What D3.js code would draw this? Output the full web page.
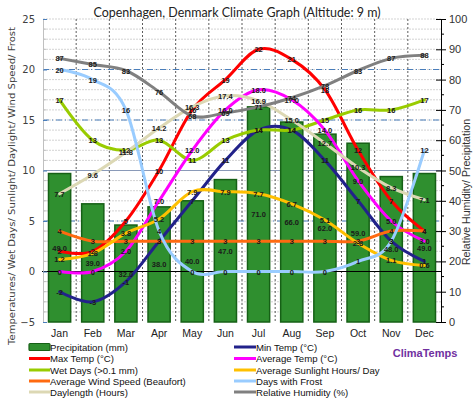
<!DOCTYPE html>
<html><head><meta charset="utf-8">
<script src="https://cdn.jsdelivr.net/npm/d3@7"></script>
<style>body{margin:0;background:#fff}svg{display:block}</style>
</head><body>
<svg id="c" width="474" height="400"></svg>
<script>
const months = ["Jan","Feb","Mar","Apr","May","Jun","Jul","Aug","Sep","Oct","Nov","Dec"];
const precipitation = [49,39,32,38,40,47,71,66,62,59,48,49];
const maxTemp = [2,2,5,10,16,19,22,21,18,12,7,4];
const minTemp = [-2,-3,-1,3,7,11,14,14,11,7,3,1];
const avgTemp = [0,0,2,7,12,16,18,17,14,9,5,3];
const wetDays = [17,13,12,13,11,13,14,14,15,16,16,17];
const windSpeed = [4,3,3,3,3,3,3,3,3,3,4,4];
const sunlight = [1.2,1.8,3.8,5.2,7.9,7.9,7.7,6.7,5.1,2.8,1.1,0.6];
const frost = [20,19,16,4,0,0,0,0,0,1,3,12];
const daylength = [7.7,9.6,11.8,14.2,16.3,17.4,16.9,15.0,12.7,10.3,8.3,7.1];
const humidity = [87,85,83,76,68,69,71,74,78,83,87,88];
const leftTicks = [-5,0,5,10,15,20,25];
const rightTicks = [0,10,20,30,40,50,60,70,80,90,100];

const svg = d3.select("#c");
const X0 = 43, X1 = 441, Y0 = 19, Y1 = 322;
const x = d3.scaleBand().domain(months).range([X0, X1]);
const yL = d3.scaleLinear().domain([-5,25]).range([Y1, Y0]);
const yR = d3.scaleLinear().domain([0,100]).range([Y1, Y0]);
const cx = m => x(m) + x.bandwidth()/2;

// title
svg.append("text").attr("x",237).attr("y",17).attr("text-anchor","middle")
  .attr("font-family","Lato, 'Open Sans', sans-serif").attr("font-size",14).attr("fill","#222")
  .attr("textLength",287).attr("lengthAdjust","spacingAndGlyphs")
  .text("Copenhagen, Denmark Climate Graph (Altitude: 9 m)");

const g = svg.append("g");
g.selectAll(".mg").data(d3.range(-4,26)).join("line")
  .attr("x1",X0).attr("x2",X1).attr("y1",d=>yL(d)).attr("y2",d=>yL(d))
  .attr("stroke","#c8c8c8").attr("stroke-width",0.8).attr("stroke-dasharray","2,1");
g.selectAll(".Mg").data([5,15,20]).join("line")
  .attr("x1",X0).attr("x2",X1).attr("y1",d=>yL(d)).attr("y2",d=>yL(d))
  .attr("stroke","#4a7ebb").attr("stroke-width",1).attr("stroke-dasharray","6,3,1,3");
g.append("line").attr("x1",X0).attr("x2",X1).attr("y1",yR(50)).attr("y2",yR(50))
  .attr("stroke","#8a9ab8").attr("stroke-width",1.2);
g.selectAll(".vg").data(months.slice(1)).join("line")
  .attr("x1",d=>x(d)).attr("x2",d=>x(d)).attr("y1",Y0).attr("y2",Y1)
  .attr("stroke","#333").attr("stroke-width",0.8).attr("stroke-dasharray","2,2");

// bars
svg.append("g").selectAll("rect").data(precipitation).join("rect")
  .attr("x",(d,i)=>x(months[i])+5.5).attr("width",x.bandwidth()-11)
  .attr("y",d=>yR(d)).attr("height",d=>yR(0)-yR(d))
  .attr("fill","#2f8f2f").attr("stroke","#166016").attr("stroke-width",1.5);

svg.append("line").attr("x1",X0-1).attr("x2",X1).attr("y1",yL(0)).attr("y2",yL(0))
  .attr("stroke","#000").attr("stroke-width",1);

// axes
const axL = svg.append("g").attr("transform",`translate(${X0},0)`)
  .call(d3.axisLeft(yL).tickValues(leftTicks).tickSize(-4).tickPadding(8));
axL.select(".domain").attr("stroke","#c0c0c0");
axL.selectAll(".tick line").attr("stroke","#4a7ebb");
axL.selectAll("text").attr("font-family","'DejaVu Sans', Verdana, sans-serif").attr("font-size",10).attr("fill","#404040");
svg.append("g").selectAll("line").data(d3.range(-5,26).filter(d=>d%5)).join("line")
  .attr("x1",X0).attr("x2",X0+3).attr("y1",d=>yL(d)).attr("y2",d=>yL(d)).attr("stroke","#c0c0c0");

const axR = svg.append("g").attr("transform",`translate(${X1},0)`)
  .call(d3.axisRight(yR).tickValues(rightTicks).tickSize(5).tickPadding(3));
axR.select(".domain").attr("stroke","#000");
axR.selectAll(".tick line").attr("x1",-5).attr("stroke","#000");
axR.selectAll("text").attr("font-family","'Liberation Sans', Arial, sans-serif").attr("font-size",11).attr("fill","#333");
svg.append("g").selectAll("line").data(d3.range(5,100,10)).join("line")
  .attr("x1",X1).attr("x2",X1+3).attr("y1",d=>yR(d)).attr("y2",d=>yR(d)).attr("stroke","#000");

const axB = svg.append("g").attr("transform",`translate(0,${Y1})`)
  .call(d3.axisBottom(x).tickSize(0).tickPadding(8));
axB.select(".domain").remove();
axB.selectAll("text").attr("font-family","'Liberation Sans', Arial, sans-serif").attr("font-size",10.5).attr("fill","#222");

svg.append("text").attr("transform","translate(15,186) rotate(-90)").attr("text-anchor","middle")
  .attr("font-family","'DejaVu Sans', Verdana, sans-serif").attr("font-size",9.5).attr("fill","#404040")
  .attr("textLength",318).attr("lengthAdjust","spacingAndGlyphs")
  .text("Temperatures/ Wet Days/ Sunlight/ Daylight/ Wind Speed/ Frost");
svg.append("text").attr("transform","translate(470,192) rotate(-90)").attr("text-anchor","middle")
  .attr("font-family","'Liberation Sans', Arial, sans-serif").attr("font-size",11).attr("fill","#333")
  .attr("textLength",146).attr("lengthAdjust","spacingAndGlyphs")
  .text("Relative Humidity/ Precipitation");

// lines
const f1 = d3.format(".1f");
const fi = d => String(d);
const fAvg = d => d===0 ? "0" : f1(d);
const series = [
  {name:"Max Temp (°C)", data:maxTemp, color:"#ff0000", y:yL, fmt:fi},
  {name:"Min Temp (°C)", data:minTemp, color:"#22228a", y:yL, fmt:fi},
  {name:"Wet Days (>0.1 mm)", data:wetDays, color:"#99cc00", y:yL, fmt:fi},
  {name:"Average Temp (°C)", data:avgTemp, color:"#ff00ff", y:yL, fmt:fAvg},
  {name:"Average Wind Speed (Beaufort)", data:windSpeed, color:"#ff6a10", y:yL, fmt:fi},
  {name:"Average Sunlight Hours/ Day", data:sunlight, color:"#ffc000", y:yL, fmt:f1},
  {name:"Daylength (Hours)", data:daylength, color:"#dcd8b4", y:yL, fmt:f1},
  {name:"Days with Frost", data:frost, color:"#99ccff", y:yL, fmt:fi},
  {name:"Relative Humidity (%)", data:humidity, color:"#808080", y:yR, fmt:fi}
];
const line = (ys) => d3.line().x((d,i)=>cx(months[i])).y(d=>ys(d)).curve(d3.curveCatmullRom.alpha(0));
const lg = svg.append("g");
series.forEach(s=>{
  lg.append("path").attr("d",line(s.y)(s.data)).attr("fill","none")
    .attr("stroke",s.color).attr("stroke-width",3).attr("stroke-linecap","round");
});
const lab = svg.append("g").attr("font-family","'Liberation Sans', Arial, sans-serif")
  .attr("font-size",7.5).attr("font-weight","bold").attr("fill","#1a1a1a").attr("text-anchor","middle");
lab.selectAll(".pl").data(precipitation).join("text")
  .attr("x",(d,i)=>cx(months[i])).attr("y",d=>yR(d/2)+3).text(d=>f1(d));
series.forEach(s=>{
  lab.append("g").selectAll("text").data(s.data).join("text")
    .attr("x",(d,i)=>cx(months[i])).attr("y",d=>s.y(d)+3).text(d=>s.fmt(d));
});

// legend
const leg = svg.append("g").attr("font-family","'Liberation Sans', Arial, sans-serif").attr("font-size",9.6).attr("fill","#111");
const rowsY = [347,358.5,370,381,392];
const leftCol = [{name:"Precipitation (mm)", bar:true}, series[0], series[2], series[4], series[6]];
const rightCol = [series[1], series[3], series[5], series[7], series[8]];
function drawCol(items, sx, ex){
  items.forEach((it,i)=>{
    const yy = rowsY[i];
    if(it.bar){
      leg.append("rect").attr("x",sx).attr("y",yy-3.5).attr("width",ex-sx).attr("height",7)
        .attr("fill","#2f8f2f").attr("stroke","#166016").attr("stroke-width",1.2).attr("rx",1);
    } else {
      leg.append("line").attr("x1",sx).attr("x2",ex).attr("y1",yy).attr("y2",yy)
        .attr("stroke",it.color).attr("stroke-width",3);
    }
    leg.append("text").attr("x",ex).attr("y",yy+3.5).text(it.name);
  });
}
drawCol(leftCol, 29, 50);
drawCol(rightCol, 234, 256);
svg.append("text").attr("x",425).attr("y",357).attr("text-anchor","middle")
  .attr("font-family","'Liberation Sans', Arial, sans-serif").attr("font-size",11).attr("font-weight","bold")
  .attr("fill","#7030a0").text("ClimaTemps");
</script>
</body></html>
